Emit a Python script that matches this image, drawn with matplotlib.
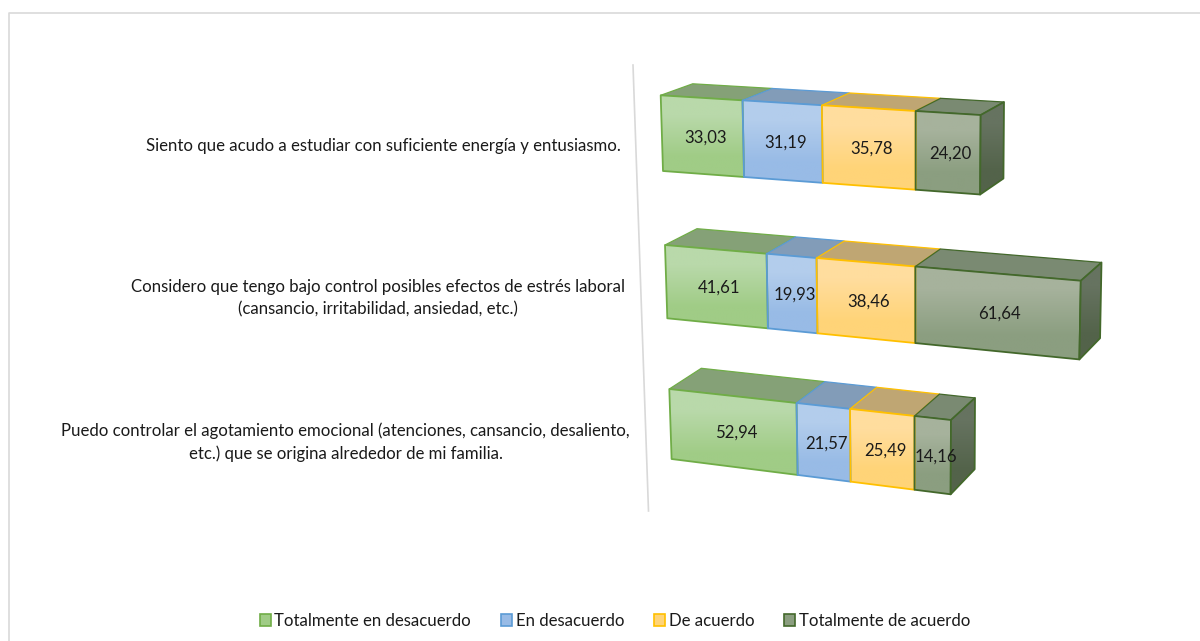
import numpy as np
import matplotlib
matplotlib.use("Agg")
import matplotlib.pyplot as plt
from matplotlib.colors import to_rgb
from matplotlib.patches import Polygon, Patch

preguntas = [
    "Siento que acudo a estudiar con suficiente energía y entusiasmo.",
    "Considero que tengo bajo control posibles efectos de estrés laboral\n(cansancio, irritabilidad, ansiedad, etc.)",
    "Puedo controlar el agotamiento emocional (atenciones, cansancio, desaliento,\netc.) que se origina alrededor de mi familia.",
]
series = ["Totalmente en desacuerdo", "En desacuerdo", "De acuerdo", "Totalmente de acuerdo"]
totalmente_desacuerdo = [33.03, 41.61, 52.94]
en_desacuerdo = [31.19, 19.93, 21.57]
de_acuerdo = [35.78, 38.46, 25.49]
totalmente_acuerdo = [24.20, 61.64, 14.16]

plt.rcParams["font.family"] = ["Lato", "DejaVu Sans"]

# colours: border, front top, front bottom, top face
estilos = [
    ("#70AD47", "#B9D9AA", "#A0CC86", "#85A177"),
    ("#5B9BD5", "#B3CDEC", "#98BBE6", "#829CB8"),
    ("#FFC000", "#FFDD9E", "#FFD478", "#BFA673"),
    ("#43682B", "#A6B29C", "#8B9E80", "#7A8A72"),
]
lado_arriba = "#667360"
lado_abajo = "#53634A"

# perspective of the 3d bars, one entry per row, everything in image pixels
x0 = [660.7, 665.0, 669.3]
escala = [2.443, 2.399, 2.350]
fuga = 0.000417
y_arriba = [95.3, 245.0, 389.0]
pend_arriba = [0.0616, 0.0859, 0.110]
y_abajo = [171.0, 318.3, 459.0]
pend_abajo = [0.0734, 0.0989, 0.1253]
fondo_y = [-11.5, -16.3, -20.7]


def proyecta(fila, v, h, d=0):
    # v = value along the bar, h = 0 bottom..1 top, d = 0 front..1 back
    x = x0[fila] + escala[fila] * v / (1 - fuga * v)
    dx = x - x0[fila]
    y_t = y_arriba[fila] + pend_arriba[fila] * dx
    y_b = y_abajo[fila] + pend_abajo[fila] * dx
    y = y_b + (y_t - y_b) * h
    x = x + (1 - h) * (2.3 - 0.023 * v)
    x = x + d * (32 - 0.07 * v)
    y = y + d * (fondo_y[fila] - 0.012 * v - (1 - h) * 3)
    return x, y


def cara(ax, pts, arriba, abajo, borde, z):
    # polygon with a vertical gradient
    pts = np.array(pts)
    grad = np.array([[to_rgb(arriba)], [to_rgb(abajo)]])
    im = ax.imshow(grad, extent=(pts[:, 0].min(), pts[:, 0].max(), pts[:, 1].max(), pts[:, 1].min()),
                   aspect="auto", interpolation="bilinear", zorder=z)
    im.set_clip_path(Polygon(pts, transform=ax.transData))
    ax.add_patch(Polygon(pts, fill=False, edgecolor=borde, linewidth=1.3, joinstyle="round", zorder=z + 0.5))


fig = plt.figure(figsize=(12, 6.41), dpi=100)
ax = fig.add_axes([0, 0, 1, 1])
ax.axis("off")

# outer chart frame and category axis line
ax.plot([8.5, 8.5, 1200], [641, 12.5, 12.5], color="#D9D9D9", linewidth=1.2, zorder=1)
ax.plot([633, 648.5], [65, 511], color="#D9D9D9", linewidth=1.2, zorder=1)

valores = np.array([totalmente_desacuerdo, en_desacuerdo, de_acuerdo, totalmente_acuerdo])

for fila in range(len(preguntas)):
    acum = np.concatenate([[0], np.cumsum(valores[:, fila])])
    for s in range(len(series)):
        v0, v1 = acum[s], acum[s + 1]
        borde, frente1, frente2, tapa = estilos[s]
        arriba = [proyecta(fila, v0, 1), proyecta(fila, v1, 1), proyecta(fila, v1, 1, 1), proyecta(fila, v0, 1, 1)]
        ax.add_patch(Polygon(arriba, facecolor=tapa, edgecolor=borde, linewidth=0.9, zorder=3 + s * 0.1))
    for s in range(len(series)):
        v0, v1 = acum[s], acum[s + 1]
        borde, frente1, frente2, tapa = estilos[s]
        frente = [proyecta(fila, v0, 1), proyecta(fila, v1, 1), proyecta(fila, v1, 0), proyecta(fila, v0, 0)]
        cara(ax, frente, frente1, frente2, borde, 4 + s * 0.1)
        xm, ym = proyecta(fila, (v0 + v1) / 2, 0.5)
        ax.text(xm + 3, ym + 1.5, f"{valores[s, fila]:.2f}".replace(".", ","), ha="center", va="center",
                fontsize=12.1, color="#1A1A1A", zorder=8)
    fin = acum[-1]
    lado = [proyecta(fila, fin, 1), proyecta(fila, fin, 1, 1), proyecta(fila, fin, 0, 1), proyecta(fila, fin, 0)]
    cara(ax, lado, lado_arriba, lado_abajo, estilos[3][0], 5)

# category labels
etiqueta_x = [621, 625, 630]
etiqueta_y = [146, 298, 442]
for i, texto in enumerate(preguntas):
    ax.text(etiqueta_x[i], etiqueta_y[i], texto, ha="right", va="center", multialignment="center",
            fontsize=12.1, color="#1A1A1A", linespacing=1.5)

ax.set_xlim(0, 1200)
ax.set_ylim(641, 0)

asas = [Patch(facecolor=e[2], edgecolor=e[0], linewidth=1.2) for e in estilos]
ax.legend(asas, series, loc="center", bbox_to_anchor=(615, 621), bbox_transform=ax.transData, ncol=4,
          frameon=False, fontsize=12.1, handlelength=0.65, handleheight=0.72, handletextpad=0.2,
          columnspacing=1.8, labelcolor="#1A1A1A", borderpad=0)

fig.savefig("out.png", dpi=100)
